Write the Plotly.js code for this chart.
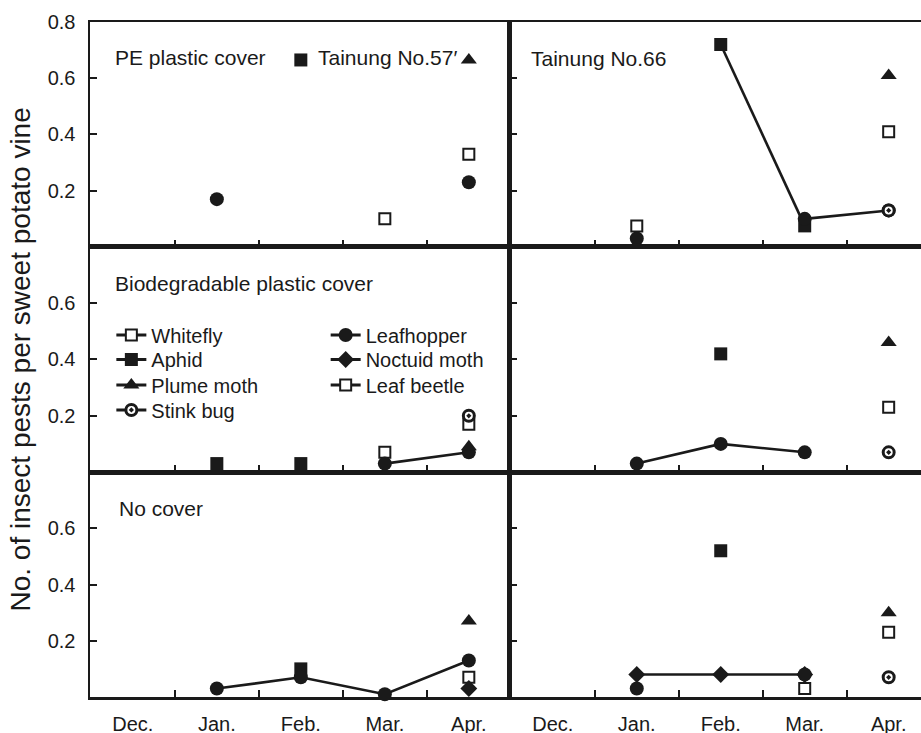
<!DOCTYPE html>
<html>
<head>
<meta charset="utf-8">
<script src="https://cdn.plot.ly/plotly-3.0.1.min.js"></script>
<style>
html,body{margin:0;padding:0;background:#ffffff;}
#chart{width:921px;height:733px;}
</style>
</head>
<body>
<div id="chart"></div>
<script>
// ---------- DATA (months Dec..Apr) ----------
const months = ['Dec.', 'Jan.', 'Feb.', 'Mar.', 'Apr.'];
const monthPos = [0, 1, 2, 3, 4];
const yTicksTop = [0.2, 0.4, 0.6, 0.8];
const yTicksOther = [0.2, 0.4, 0.6];

// Panel A: PE plastic cover, Tainung No.57'
const peA_whitefly   = [null, null, null, 0.10, 0.33];
const peA_aphid      = [null, null, 0.665, null, null];
const peA_leafhopper = [null, 0.17, null, null, 0.23];
const peA_plume      = [null, null, null, null, 0.665];
// Panel B: PE plastic cover, Tainung No.66
const peB_whitefly   = [null, 0.075, null, null, 0.41];
const peB_aphid      = [null, null, 0.72, 0.075, null];
const peB_leafhopper = [null, 0.03, null, 0.10, 0.13];
const peB_plume      = [null, null, null, null, 0.61];
const peB_stinkbug   = [null, null, null, null, 0.13];
// Panel C: Biodegradable plastic cover, Tainung No.57'
const bioA_whitefly   = [null, null, null, 0.07, 0.17];
const bioA_aphid      = [null, 0.03, 0.03, null, null];
const bioA_leafhopper = [null, null, null, 0.03, 0.07];
const bioA_plume      = [null, null, null, null, 0.09];
const bioA_stinkbug   = [null, null, null, null, 0.20];
// Panel D: Biodegradable plastic cover, Tainung No.66
const bioB_whitefly   = [null, null, null, null, 0.23];
const bioB_aphid      = [null, null, 0.42, null, null];
const bioB_leafhopper = [null, 0.03, 0.10, 0.07, null];
const bioB_plume      = [null, null, null, null, 0.46];
const bioB_stinkbug   = [null, null, null, null, 0.07];
// Panel E: No cover, Tainung No.57'
const noA_whitefly   = [null, null, null, null, 0.07];
const noA_aphid      = [null, null, 0.10, null, null];
const noA_noctuid    = [null, null, null, null, 0.03];
const noA_leafhopper = [null, 0.03, 0.07, 0.01, 0.13];
const noA_plume      = [null, null, null, null, 0.27];
// Panel F: No cover, Tainung No.66
const noB_whitefly   = [null, null, null, 0.03, 0.23];
const noB_aphid      = [null, null, 0.52, null, null];
const noB_noctuid    = [null, 0.08, 0.08, 0.08, null];
const noB_leafhopper = [null, 0.03, null, 0.08, null];
const noB_plume      = [null, null, null, null, 0.30];
const noB_stinkbug   = [null, null, null, null, 0.07];

const legendCol1 = ['Whitefly', 'Aphid', 'Plume moth', 'Stink bug'];
const legendCol2 = ['Leafhopper', 'Noctuid moth', 'Leaf beetle'];

// ---------- STYLE ----------
const INK = '#1a1a1a';
const FONT = 'Liberation Sans, Arial, Helvetica, sans-serif';
const markerStyle = {
  'Whitefly':     {symbol: 'square', size: 11, color: '#ffffff', line: {color: INK, width: 2}},
  'Leaf beetle':  {symbol: 'square', size: 11, color: '#ffffff', line: {color: INK, width: 2}},
  'Aphid':        {symbol: 'square', size: 13, color: INK, line: {color: INK, width: 0}},
  'Leafhopper':   {symbol: 'circle', size: 14, color: INK, line: {color: INK, width: 0}},
  'Noctuid moth': {symbol: 'diamond', size: 13, color: INK, line: {color: INK, width: 0}},
  'Plume moth':   {symbol: 'triangle-up', size: 14, color: INK, line: {color: INK, width: 0}},
  'Stink bug':    {symbol: 'circle-dot', size: 11, color: '#ffffff', line: {color: INK, width: 3}}
};

const panels = [
  {xa: 'x',  ya: 'y',  lined: [], series: [['Whitefly', peA_whitefly], ['Aphid', peA_aphid], ['Leafhopper', peA_leafhopper], ['Plume moth', peA_plume]]},
  {xa: 'x2', ya: 'y2', lined: ['Aphid', 'Leafhopper'], series: [['Whitefly', peB_whitefly], ['Aphid', peB_aphid], ['Leafhopper', peB_leafhopper], ['Plume moth', peB_plume], ['Stink bug', peB_stinkbug]]},
  {xa: 'x3', ya: 'y3', lined: ['Leafhopper'], series: [['Whitefly', bioA_whitefly], ['Aphid', bioA_aphid], ['Leafhopper', bioA_leafhopper], ['Plume moth', bioA_plume], ['Stink bug', bioA_stinkbug]]},
  {xa: 'x4', ya: 'y4', lined: ['Leafhopper'], series: [['Whitefly', bioB_whitefly], ['Aphid', bioB_aphid], ['Leafhopper', bioB_leafhopper], ['Plume moth', bioB_plume], ['Stink bug', bioB_stinkbug]]},
  {xa: 'x5', ya: 'y5', lined: ['Leafhopper'], series: [['Whitefly', noA_whitefly], ['Aphid', noA_aphid], ['Noctuid moth', noA_noctuid], ['Leafhopper', noA_leafhopper], ['Plume moth', noA_plume]]},
  {xa: 'x6', ya: 'y6', lined: ['Noctuid moth'], series: [['Whitefly', noB_whitefly], ['Aphid', noB_aphid], ['Noctuid moth', noB_noctuid], ['Leafhopper', noB_leafhopper], ['Plume moth', noB_plume], ['Stink bug', noB_stinkbug]]}
];

const traces = [];
panels.forEach(p => {
  p.series.forEach(([name, vals]) => {
    const lined = p.lined.includes(name);
    traces.push({
      type: 'scatter', x: monthPos, y: vals, xaxis: p.xa, yaxis: p.ya,
      mode: lined ? 'lines+markers' : 'markers', connectgaps: false,
      name: name, showlegend: false, cliponaxis: false,
      line: {color: INK, width: 2.6},
      marker: markerStyle[name], hoverinfo: 'skip'
    });
  });
});

// legend entries (one legend per entry so the rows sit like the reference)
const legendRowsY = [0.5363, 0.5000, 0.4622, 0.4252];
const legendColX = [0.0257, 0.2836];
const legends = {};
let li = 1;
[legendCol1, legendCol2].forEach((col, ci) => {
  col.forEach((name, ri) => {
    const key = li === 1 ? 'legend' : 'legend' + li;
    traces.push({
      type: 'scatter', x: [null], y: [null], xaxis: 'x3', yaxis: 'y3',
      mode: 'lines+markers', name: name, showlegend: true, legend: key,
      line: {color: INK, width: 3.2}, marker: markerStyle[name], hoverinfo: 'skip'
    });
    legends[key] = {
      x: legendColX[ci], y: legendRowsY[ri], xanchor: 'left', yanchor: 'middle',
      bgcolor: 'rgba(0,0,0,0)', borderwidth: 0,
      font: {family: FONT, size: 20, color: INK}, itemclick: false, itemdoubleclick: false
    };
    li++;
  });
});

// ---------- LAYOUT ----------
const xLeft = [0, 0.5054];
const xRight = [0.5054, 1];
const yTop = [0.6667, 1];
const yMid = [0.3333, 0.6667];
const yBot = [0, 0.3333];

function xax(domain, range, anchor, showLabels) {
  return {
    domain: domain, range: range, anchor: anchor,
    tickmode: 'array', tickvals: monthPos, ticktext: months,
    showticklabels: showLabels, ticks: '', ticklabelstandoff: 7,
    tickfont: {family: FONT, size: 20, color: INK},
    showline: true, mirror: true, linecolor: INK, linewidth: 2.5,
    showgrid: false, zeroline: false, fixedrange: true,
    minor: {tickmode: 'array', tickvals: [0.5, 1.5, 2.5, 3.5], ticks: 'inside', ticklen: 7, tickwidth: 2, tickcolor: INK, showgrid: false}
  };
}
function yax(domain, anchor, vals, showLabels, mirror) {
  return {
    domain: domain, range: [0, 0.8], anchor: anchor,
    tickmode: 'array', tickvals: vals, ticktext: vals.map(v => v.toFixed(1)),
    showticklabels: showLabels, ticks: 'inside', ticklen: 7, tickwidth: 2, tickcolor: INK,
    ticklabelstandoff: 8, tickfont: {family: FONT, size: 20, color: INK},
    showline: true, mirror: mirror, linecolor: INK, linewidth: 2.5,
    showgrid: false, zeroline: false, fixedrange: true
  };
}

const rangeL = [-0.51, 4.49];
const rangeR = [-0.51, 4.385];

const layout = Object.assign({
  width: 921, height: 733,
  margin: {l: 90, r: 0, t: 22, b: 36, pad: 0},
  paper_bgcolor: '#ffffff', plot_bgcolor: '#ffffff',
  font: {family: FONT, color: INK},
  xaxis:  xax(xLeft, rangeL, 'y', false),
  xaxis2: xax(xRight, rangeR, 'y2', false),
  xaxis3: xax(xLeft, rangeL, 'y3', false),
  xaxis4: xax(xRight, rangeR, 'y4', false),
  xaxis5: xax(xLeft, rangeL, 'y5', true),
  xaxis6: xax(xRight, rangeR, 'y6', true),
  yaxis:  yax(yTop, 'x', yTicksTop, true, true),
  yaxis2: yax(yTop, 'x2', yTicksOther, false, false),
  yaxis3: yax(yMid, 'x3', yTicksOther, true, true),
  yaxis4: yax(yMid, 'x4', yTicksOther, false, false),
  yaxis5: yax(yBot, 'x5', yTicksOther, true, true),
  yaxis6: yax(yBot, 'x6', yTicksOther, false, false),
  annotations: [
    {text: 'PE plastic cover', xref: 'paper', yref: 'paper', x: 0.0277, y: 0.9467, xanchor: 'left', yanchor: 'middle', showarrow: false, font: {family: FONT, size: 21, color: INK}},
    {text: 'Tainung No.57\u2032', xref: 'paper', yref: 'paper', x: 0.272, y: 0.9467, xanchor: 'left', yanchor: 'middle', showarrow: false, font: {family: FONT, size: 21, color: INK}},
    {text: 'Tainung No.66', xref: 'paper', yref: 'paper', x: 0.5287, y: 0.9452, xanchor: 'left', yanchor: 'middle', showarrow: false, font: {family: FONT, size: 21, color: INK}},
    {text: 'Biodegradable plastic cover', xref: 'paper', yref: 'paper', x: 0.0277, y: 0.6129, xanchor: 'left', yanchor: 'middle', showarrow: false, font: {family: FONT, size: 21, color: INK}},
    {text: 'No cover', xref: 'paper', yref: 'paper', x: 0.0329, y: 0.2795, xanchor: 'left', yanchor: 'middle', showarrow: false, font: {family: FONT, size: 21, color: INK}},
    {text: 'No. of insect pests per sweet potato vine', xref: 'paper', yref: 'paper', x: -0.0842, y: 0.5, xanchor: 'center', yanchor: 'middle', textangle: -90, showarrow: false, font: {family: FONT, size: 28, color: INK}}
  ]
}, legends);

Plotly.newPlot('chart', traces, layout, {displayModeBar: false, staticPlot: true});
</script>
</body>
</html>
